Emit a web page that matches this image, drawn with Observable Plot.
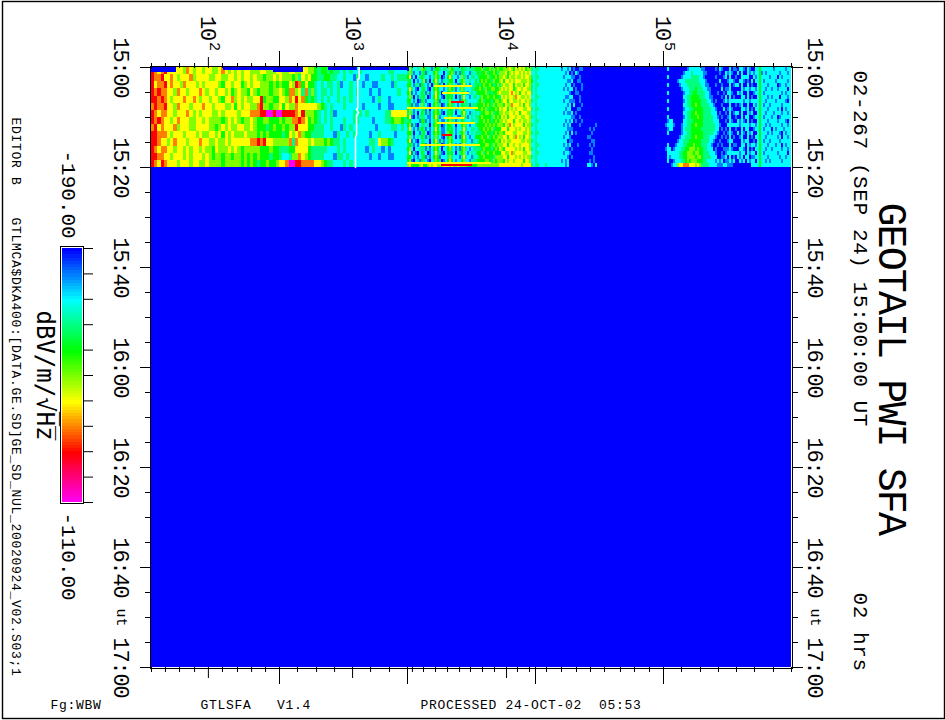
<!DOCTYPE html>
<html><head><meta charset="utf-8">
<script src="https://cdn.jsdelivr.net/npm/d3@7"></script>
<script src="https://cdn.jsdelivr.net/npm/@observablehq/plot@0.6"></script>
<style>
html,body{margin:0;padding:0;background:#fff;overflow:hidden}
#chart{position:relative;width:945px;height:720px}
#chart svg{position:absolute;left:0;top:0;background:transparent}
.tick20{letter-spacing:-1.2px}
.head{letter-spacing:.6px}
.title{letter-spacing:-1.9px}
.small{letter-spacing:.7px}
</style></head><body><div id="chart"></div>
<script>
// Band edges in log10(Hz), decade and tick positions
const bandEdges = [1.58, 2.525, 3.357, 4.188, 5, 5.903];
const tallTicks = [2.525, 3.357, 4.188, 5];
const decadeTicks = [2, 3, 4];
const decadeLabels = [2, 3, 4, 5];
const minorTicks = [1.58,1.683,1.787,1.898,2.104,2.215,2.319,2.422,2.642,2.766,2.883,3.117,3.24,3.389,3.461,3.539,3.617,3.695,3.766,3.844,3.922,4.071,4.149,4.258,4.353,4.448,4.537,4.626,4.727,4.816,4.911,5.127,5.261,5.388,5.515,5.642,5.776,5.903];
const minuteMinor = [5,10,15,25,30,35,45,50,55,65,70,75,85,90,95,105,110,115];
const minuteMajor = [0,20,40,60,80,100,120];
const timeLabels = ["15:00","15:20","15:40","16:00","16:20","16:40","17:00"];
const barTicks = [-190,-182,-174,-166,-158,-150,-142,-134,-126,-118,-110];
const colorStops = [-190,-174,-158,-142,-126,-110];
const colorRange = ["#0000ff","#00ffff","#00ff00","#ffff00","#ff0000","#ff00ff"];
// level code (digit in the rows below) -> dBV/m/rtHz
const levelDb = [-190,-182,-174,-166,-158,-150,-142,-134,-126,-110];

const band1Rows = [
"8767866666576566566556765656566555665556",
"8778667656667566665566556656566565545565",
"8677867665766656566665466566456566555454",
"8787766576656667656656656456554654555455",
"8878765666766765665665466756565566845544",
"7877866576665666766566655646566557855455",
"8767766566676565666556566665666777889989",
"8787665676665566565555456565455654455444",
"7867666756665566665545656556655654443454",
"8877765666566656556656465655565554545444",
"8876656766656667665565565666666778786655",
"8767766566565665655465556565455555444544",
"8877665666565666565455455455454545444344",
"8768766656665665565555455555454543445445"];
const band2Rows = [
"6556655665543443433232322322222222332222",
"6555453656443344332232213221222232232333",
"5446587464432323323122322212211222213222",
"6547756373532332323222323222122122222322",
"6657686743432323223232322222212322122222",
"6465576666665432322232222212222122112222",
"9888876855543232312222232323222223366666",
"5455778764543232322232233222212223345543",
"4545586664433322322132322222221222233232",
"4346567544333322213223232222122322221222",
"5557376665655545433232222222332655432222",
"3334466664333332223232222221232212122222",
"3223557654333322213323222222122122112222",
"6679988777766543322232322222222222222222"];
const band3Rows = [
"45322325 43231344 32332543 23243323 33444534 45354544 55565465 65645532",
"35312213 41322453 22023453 13143221 32343445 34454355 56456566 56565622",
"46120234 32212354 30124632 21253312 33234444 53445455 65465565 56566532",
"34202123 51302463 21323442 02345223 22424545 44354456 46656566 65556542",
"44213314 32120354 13024532 31146321 23343454 45434535 65566465 56466532",
"36321023 42102454 22123543 12353222 33445435 44554456 56566456 65665532",
"45121224 31312364 30224432 12243312 32344445 34344565 55567656 46656632",
"35302133 42012464 21034342 03136221 23323544 54454436 56566576 65565622",
"44212014 31222354 12323532 22145322 22234534 44345545 66466556 56656532",
"34131125 32102453 30124533 21243331 33344454 54354555 46557666 56466522",
"45212323 41202354 21223442 13254222 22444545 34445465 66465656 66556632",
"35312024 31312454 31024342 02246321 32323445 54534455 65566566 46665522",
"46102133 32112463 12223532 21135312 32334544 44354546 56466656 65566532",
"34222214 41212354 21124533 13243222 33234454 54345455 65666466 56556522",
"45131023 32302454 30124432 02245321 22344445 45454555 46576566 66465532",
"36212134 31212364 21124342 12236322 33234454 54534446 66466656 56656522",
"44302213 42012454 31125442 12345212 32333445 44345455 46666556 66556532",
"35212324 31312353 21024532 02146321 22444544 53454555 66466576 56466522",
"46121023 32202463 13123542 22245322 13234454 44445546 56556666 65565532",
"34312124 41202354 30124632 12136222 33344445 54354555 66466566 56666522",
"45202233 31312454 20224532 13145321 23333454 44345465 46666656 56466532",
"36131024 32012363 31024342 02345212 32344534 54454446 65567566 66556622",
"44212123 41312454 12223532 22136322 13234454 44435555 66466656 56565532",
"45102314 32102354 30124642 12245221 33344445 54354555 46566566 66466522",
"56444456 44565665 55666565 56555544 44455555 55555566 66666666 65666632"];
const band4Rows = [
"3322222222222122120100110","3222222222222221201021000","3322222222222212221100100",
"3222222222222222112001100","3322222222222221220100010","3222222222222212122010010",
"3222222222222222210011000","3322222222222221122000100","3222222222222212211100100",
"3222222222222222120200010","3322222222222221220001100","3222222222222212112010000",
"3222222222222222221100100","3322222222222221212010010","3222222222222212120000100000001",
"3222222222222222111000000001010","3322222222222221202010000000100","3222222222222212210000000011000",
"3222222222222222011000000000110","3322222222222212120001000001010","3222222222222221101000000000100",
"3322222222222212210000000001100","3222222222222222101000000000010","3222222222222121200000000001010",
"3322232222222221200000000022102"];
const band5Rows = [
"00200000 00001222 22211000 00102100 02011022 10210022 42222221 22222122",
"00000000 00122232 22221100 00001002 12100202 00212122 41212222 22122212",
"00200000 01222233 33221000 00100012 02001002 22200212 42222122 20212222",
"00000001 22233333 33222100 00002000 12210022 10102022 42122222 12222212",
"00200000 12223333 33322110 00100100 02012202 00201002 42221222 20122122",
"00000000 01222333 43332211 00000201 12000002 12212212 42212212 21222202",
"00200000 00122334 43333221 00010010 22100212 00200122 42122222 22212122",
"00000000 00223344 44333221 10000102 02010002 20201002 42221212 22022212",
"00200000 00123344 44433322 10100012 12222222 12212222 42212222 12222102",
"00000000 00223344 54433332 21000100 02001012 00200212 42122122 22212222",
"00200000 00122334 44443333 22100020 12100002 21201022 42221222 21202122",
"00000000 00223344 54443333 22201001 02012202 00212002 42212221 22212212",
"00200000 00123344 45443333 32210100 12001002 02200122 42122212 20122222",
"00122000 00223334 44443333 32220001 02100212 10201002 42221222 21222102",
"01222100 01223344 54443333 33221000 22222212 22212212 42212122 22212212",
"00122000 01233344 44433333 33220101 02001002 02200122 42122202 12221222",
"00200000 01223344 44443333 32210010 12100202 10212002 42221212 22102122",
"00000000 12233344 54443332 22100101 02010012 00201022 42212222 21202212",
"00000001 22333444 44433332 21001000 12200002 12200102 42122122 22122222",
"00200012 22334445 44433322 10010100 02011002 20212212 42221222 12202122",
"01220122 23344555 45443322 20100011 12100022 10201022 42212212 22212212",
"00222222 33445554 55443332 22100101 22222212 20212202 42122222 21222202",
"00212222 33445555 45543333 22200112 02010212 02201122 42221222 22122122",
"00200122 23345455 54443322 22121201 12120021 20212202 42212122 22212222",
"00001225 66777666 56533332 22211122 11100000 00002222 42222222 22222222"];
const bandRows = [band1Rows, band2Rows, band3Rows, band4Rows, band5Rows];
const bandCols = [40, 40, 64, 64, 64];
const recordMinutes = 20, totalMinutes = 120;
// Gaps of missing data along the top edge: [low log f, high log f, minutes]
const topGaps = [[1.58,1.765,1],[2.112,2.481,0.5],[2.481,2.681,1],[2.844,3.032,0.5],[3.052,3.357,0.6],[3.357,3.37,0.8]];
// Narrow horizontal bursts in band 3: [minutes, low log f, high log f, dB]
const bursts = [[8,3.357,3.818,-142],[5,3.584,3.76,-142],[6.8,3.64,3.73,-126],[15.4,3.441,3.831,-142],[13.4,3.584,3.65,-126],[11,3.55,3.8,-142],[10,3.6,3.73,-142],[3.6,3.53,3.78,-142],[19,3.357,3.9,-142],[19.4,3.58,3.78,-126]];
// White trace near 1 kHz: log f, minutes
const traceF = [3.043,3.043,3.034,3.034,3.026,3.039,3.026,3.026,3.019,3.019];
const traceT = [0,2.2,2.4,8,8.4,9,9.6,13.4,14,20];

const cells = [];
bandRows.forEach((rows, b) => {
  const lo = bandEdges[b], hi = bandEdges[b + 1], n = bandCols[b];
  rows.forEach((row, r) => {
    const s = row.replace(/ /g, "").padEnd(n, b === 3 ? "0" : row.trim().slice(-1));
    for (let i = 0; i < n; i++) cells.push({
      f1: lo + i * (hi - lo) / n, f2: lo + (i + 1) * (hi - lo) / n,
      t1: r * recordMinutes / rows.length, t2: (r + 1) * recordMinutes / rows.length,
      db: levelDb[+s[i]]
    });
  });
});
const gapCells = topGaps.map(([f1, f2, t2]) => ({f1, f2, t1: 0, t2, db: -190}));
const burstCells = bursts.map(([t, f1, f2, db]) => ({f1, f2, t1: t, t2: t + 0.3, db}));
const trace = traceF.map((f, i) => ({f, t: traceT[i]}));
const colorOpts = {type: "linear", domain: colorStops, range: colorRange};
const noText = () => "";
const mono = "Liberation Mono";
const rot = {rotate: 90, lineAnchor: "middle", fontFamily: mono};

const main = Plot.plot({
  width: 945, height: 720,
  marginLeft: 151, marginRight: 154, marginTop: 67, marginBottom: 53,
  style: {background: "transparent", fontFamily: mono, color: "#000"},
  x: {type: "linear", domain: bandEdges, range: [151, 279, 407, 535, 663, 791], axis: null},
  y: {domain: [0, totalMinutes], range: [67, 667], axis: null},
  color: colorOpts,
  marks: [
    Plot.rect([{t1: recordMinutes, t2: totalMinutes, db: -190}], {y1: "t1", y2: "t2", fill: "db"}),
    Plot.rect(cells, {x1: "f1", x2: "f2", y1: "t1", y2: "t2", fill: "db", shapeRendering: "crispEdges"}),
    Plot.rect(gapCells, {x1: "f1", x2: "f2", y1: "t1", y2: "t2", fill: "db", shapeRendering: "crispEdges"}),
    Plot.rect(burstCells, {x1: "f1", x2: "f2", y1: "t1", y2: "t2", fill: "db", shapeRendering: "crispEdges"}),
    Plot.line(trace, {x: "f", y: "t", stroke: "#fff", strokeWidth: 1.6, curve: "linear"}),
    Plot.frame({stroke: "#000", strokeWidth: 1, inset: -1}),
    Plot.frame({stroke: "#000", strokeWidth: 1.4, insetLeft: -149, insetTop: -66, insetRight: -153, insetBottom: -51}),
    // x ticks on both edges
    ...["top", "bottom"].flatMap(anchor => [
      Plot.axisX({anchor, ticks: minorTicks, tickSize: 5, tickFormat: noText, label: null, tickPadding: 0}),
      Plot.axisX({anchor, ticks: decadeTicks, tickSize: 11, tickFormat: noText, label: null, tickPadding: 0}),
      Plot.axisX({anchor, ticks: tallTicks, tickSize: 17, tickFormat: noText, label: null, tickPadding: 0})
    ]),
    // y ticks on both edges
    ...["left", "right"].flatMap(anchor => [
      Plot.axisY({anchor, ticks: minuteMinor, tickSize: 6, tickFormat: noText, label: null, tickPadding: 0}),
      Plot.axisY({anchor, ticks: minuteMajor, tickSize: 11, tickFormat: noText, label: null, tickPadding: 0})
    ]),
    // decade labels on top
    Plot.text(decadeLabels, {...rot, x: d => d, text: () => "10", frameAnchor: "top", textAnchor: "middle", dy: -39.5, fontSize: 22, className: "tick20"}),
    Plot.text(decadeLabels, {...rot, x: d => d, text: d => String(d), frameAnchor: "top", textAnchor: "middle", dy: -21, dx: 6, fontSize: 15}),
    // time labels, both sides
    Plot.text(minuteMajor, {...rot, y: d => d, text: (d, i) => timeLabels[i], frameAnchor: "left", textAnchor: "middle", dx: -30, fontSize: 22, className: "tick20"}),
    Plot.text(minuteMajor, {...rot, y: d => d, text: (d, i) => timeLabels[i], frameAnchor: "right", textAnchor: "middle", dx: 24, fontSize: 22, className: "tick20"}),
    Plot.text(["ut"], {...rot, y: () => 110, frameAnchor: "left", textAnchor: "middle", dx: -30, fontSize: 15}),
    Plot.text(["ut"], {...rot, y: () => 110, frameAnchor: "right", textAnchor: "middle", dx: 24, fontSize: 15}),
    // headers, reading downward
    Plot.text(["GEOTAIL PWI SFA"], {...rot, frameAnchor: "top-right", textAnchor: "start", dx: 100, dy: 135, fontSize: 40, className: "title"}),
    Plot.text(["02-267 (SEP 24) 15:00:00 UT"], {...rot, frameAnchor: "top-right", textAnchor: "start", dx: 69, dy: 3, fontSize: 21, className: "head"}),
    Plot.text(["02 hrs"], {...rot, frameAnchor: "top-right", textAnchor: "start", dx: 69, dy: 525, fontSize: 21, className: "head"}),
    Plot.text(["-190.00"], {...rot, frameAnchor: "top-left", textAnchor: "start", dx: -83, dy: 83, fontSize: 21}),
    Plot.text(["-110.00"], {...rot, frameAnchor: "top-left", textAnchor: "start", dx: -83, dy: 445, fontSize: 21}),
    Plot.text(["dBV/m/\u221aH\u0305z\u0305"], {...rot, fontFamily: "DejaVu Sans Mono", frameAnchor: "top-left", textAnchor: "start", dx: -107, dy: 243, fontSize: 24}),
    Plot.text(["EDITOR B"], {...rot, frameAnchor: "top-left", textAnchor: "start", dx: -135, dy: 50, fontSize: 13, className: "small"}),
    Plot.text(["GTLMCA$DKA400:[DATA.GE.SD]GE_SD_NUL_20020924_V02.S03;1"], {...rot, frameAnchor: "top-left", textAnchor: "start", dx: -135, dy: 150, fontSize: 13, className: "small"}),
    // footer
    Plot.text(["Fg:WBW"], {frameAnchor: "bottom-left", lineAnchor: "middle", textAnchor: "start", dx: -101, dy: 37, fontSize: 13, fontFamily: mono, className: "small"}),
    Plot.text(["GTLSFA   V1.4"], {frameAnchor: "bottom-left", lineAnchor: "middle", textAnchor: "start", dx: 49, dy: 37, fontSize: 13, fontFamily: mono, className: "small"}),
    Plot.text(["PROCESSED 24-OCT-02  05:53"], {frameAnchor: "bottom-left", lineAnchor: "middle", textAnchor: "start", dx: 269, dy: 37, fontSize: 13, fontFamily: mono, className: "small"})
  ]
});

const barSteps = d3.range(-190, -110, 1);
const bar = Plot.plot({
  width: 100, height: 720,
  marginLeft: 62, marginRight: 18, marginTop: 248, marginBottom: 218,
  style: {background: "transparent"},
  x: {axis: null},
  y: {domain: [-190, -110], range: [248, 502], axis: null},
  color: colorOpts,
  marks: [
    Plot.rect(barSteps, {y1: d => d, y2: d => d + 1, fill: d => d, shapeRendering: "crispEdges"}),
    Plot.frame({stroke: "#000", strokeWidth: 1, insetLeft: -2, insetRight: -1, insetTop: -2, insetBottom: -1}),
    Plot.axisY({anchor: "right", ticks: barTicks, tickSize: 10, tickFormat: noText, label: null, tickPadding: 0})
  ]
});
const host = document.getElementById("chart");
host.append(main, bar);
</script></body></html>
